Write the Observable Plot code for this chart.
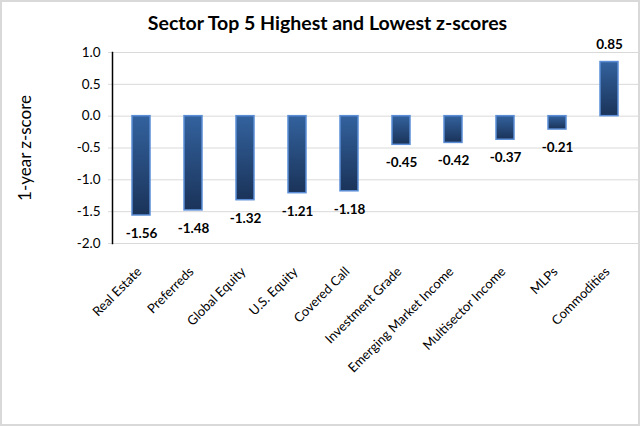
<!DOCTYPE html>
<html>
<head>
<meta charset="utf-8">
<script src="https://cdn.jsdelivr.net/npm/d3@7"></script>
<script src="https://cdn.jsdelivr.net/npm/@observablehq/plot@0.6"></script>
<style>
  html, body { margin: 0; padding: 0; background: #fff; }
  #chart svg { display: block; outline: 2px solid #d9d9d9; outline-offset: -2px; }
</style>
</head>
<body>
<div id="chart"></div>
<script>
const title = "Sector Top 5 Highest and Lowest z-scores";
const yLabel = "1-year z-score";
const categories = ["Real Estate", "Preferreds", "Global Equity", "U.S. Equity", "Covered Call",
  "Investment Grade", "Emerging Market Income", "Multisector Income", "MLPs", "Commodities"];
const values = [-1.56, -1.48, -1.32, -1.21, -1.18, -0.45, -0.42, -0.37, -0.21, 0.85];
const yTicks = [-2.0, -1.5, -1.0, -0.5, 0.0, 0.5, 1.0];

const data = categories.map((c, i) => ({category: c, value: values[i]}));
const font = "Lato, 'Open Sans', sans-serif";

const chart = Plot.plot({
  width: 640,
  height: 426,
  marginLeft: 112,
  marginRight: 2,
  marginTop: 52,
  marginBottom: 183,
  style: {fontFamily: font, fontSize: "13px", color: "#000", background: "#fff"},
  x: {domain: categories, paddingInner: 0.66, paddingOuter: 0.33, label: null},
  y: {domain: [-2, 1], label: null},
  marks: [
    Plot.gridY(yTicks, {stroke: "#d9d9d9", strokeOpacity: 1, strokeWidth: 1}),
    Plot.axisY(yTicks, {tickFormat: d => d.toFixed(1), tickSize: 4, stroke: "#d9d9d9", tickPadding: 8, fontSize: 13.5, label: null}),
    Plot.axisX({tickRotate: -45, tickSize: 0, tickPadding: 26, dx: -2, fontSize: 13, label: null}),
    Plot.barY(data, {x: "category", y: "value", fill: "url(#barGrad)", stroke: "#5b8ed6", strokeWidth: 1.5}),
    Plot.text(data.filter(d => d.value < 0), {x: "category", y: "value", text: d => d.value.toFixed(2), dy: 18, fontWeight: "bold", fontSize: 13.5}),
    Plot.text(data.filter(d => d.value >= 0), {x: "category", y: "value", text: d => d.value.toFixed(2), dy: -17, fontWeight: "bold", fontSize: 13.5}),
    Plot.frame({anchor: "left", stroke: "#000", strokeWidth: 1.5}),
    Plot.text([yLabel], {frameAnchor: "left", textAnchor: "middle", dx: -87, rotate: -90, fontSize: 17, text: d => d}),
    Plot.text([title], {frameAnchor: "top", dx: -48, dy: -36, fontSize: 19.5, fontWeight: "bold", text: d => d})
  ]
});

const defs = d3.select(chart).insert("defs", ":first-child");
const grad = defs.append("linearGradient").attr("id", "barGrad")
  .attr("x1", 0).attr("y1", 0).attr("x2", 0).attr("y2", 1);
grad.append("stop").attr("offset", "0%").attr("stop-color", "#33629e");
grad.append("stop").attr("offset", "100%").attr("stop-color", "#1a3359");

document.getElementById("chart").appendChild(chart);
</script>
</body>
</html>
